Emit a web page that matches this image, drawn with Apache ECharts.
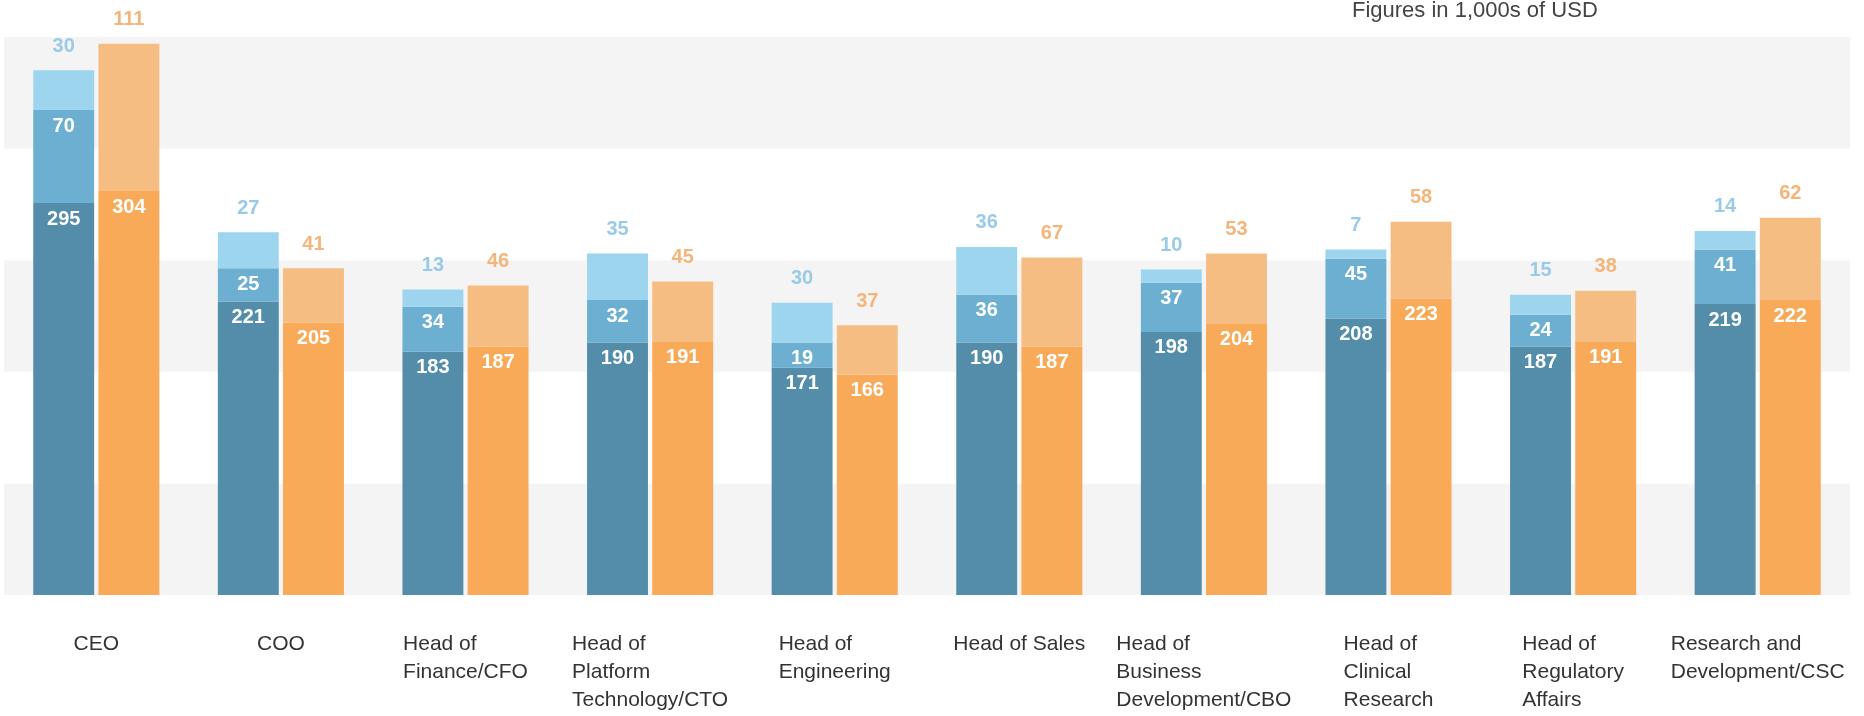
<!DOCTYPE html>
<html>
<head>
<meta charset="utf-8">
<script src="https://cdn.jsdelivr.net/npm/echarts@6/dist/echarts.min.js"></script>
<style>
  html, body { margin: 0; padding: 0; background: #ffffff; }
  #chart { width: 1864px; height: 716px; }
</style>
</head>
<body>
<div id="chart"></div>
<script>
// Roles on the category axis (line breaks as printed under each group)
const categories = [
  'CEO',
  'COO',
  'Head of\nFinance/CFO',
  'Head of\nPlatform\nTechnology/CTO',
  'Head of\nEngineering',
  'Head of Sales',
  'Head of\nBusiness\nDevelopment/CBO',
  'Head of\nClinical\nResearch',
  'Head of\nRegulatory\nAffairs',
  'Research and\nDevelopment/CSC'
];

// Blue stack (three parts), in 1,000s of USD
const blueBase  = [295, 221, 183, 190, 171, 190, 198, 208, 187, 219];
const blueMid   = [70, 25, 34, 32, 19, 36, 37, 45, 24, 41];
const blueTop   = [30, 27, 13, 35, 30, 36, 10, 7, 15, 14];

// Orange stack (two parts), in 1,000s of USD
const orangeBase = [304, 205, 187, 191, 166, 187, 204, 223, 191, 222];
const orangeTop  = [111, 41, 46, 45, 37, 67, 53, 58, 38, 62];

const unitNote = 'Figures in 1,000s of USD';

const FONT = "'Liberation Sans', Arial, sans-serif";

function innerLabel() {
  return {
    show: true,
    position: 'insideTop',
    distance: 6,
    color: '#ffffff',
    fontFamily: FONT,
    fontWeight: 'bold',
    fontSize: 20
  };
}
function outerLabel(color) {
  return {
    show: true,
    position: 'top',
    distance: 14,
    color: color,
    fontFamily: FONT,
    fontWeight: 'bold',
    fontSize: 20
  };
}

const chart = echarts.init(document.getElementById('chart'), null, { renderer: 'canvas' });

chart.setOption({
  animation: false,
  backgroundColor: '#ffffff',
  title: {
    text: unitNote,
    left: 1352,
    top: 0,
    padding: 0,
    textStyle: {
      fontFamily: FONT,
      fontSize: 22,
      fontWeight: 'normal',
      color: '#444444'
    }
  },
  grid: {
    left: 4,
    right: 14,
    top: 37,
    bottom: 121,
    containLabel: false
  },
  xAxis: {
    type: 'category',
    data: categories,
    axisLine: { show: false },
    axisTick: { show: false },
    axisLabel: {
      interval: 0,
      margin: 35,
      verticalAlign: 'top',
      // each line is a rich token aligned left inside a block centred under the group
      formatter: function (v) {
        return v.split('\n').map(function (line) { return '{l|' + line + '}'; }).join('\n');
      },
      rich: {
        l: {
          align: 'left',
          fontFamily: FONT,
          fontSize: 21,
          lineHeight: 28,
          color: '#333333'
        }
      }
    }
  },
  yAxis: {
    type: 'value',
    min: 0,
    max: 420,
    interval: 84,
    axisLine: { show: false },
    axisTick: { show: false },
    axisLabel: { show: false },
    splitLine: { show: false },
    splitArea: {
      show: true,
      areaStyle: { color: ['#F4F4F4', '#FFFFFF'] }
    }
  },
  series: [
    {
      name: 'Blue base', type: 'bar', stack: 'blue', data: blueBase,
      barWidth: '33%', barGap: '7%',
      itemStyle: { color: '#538DAA' },
      label: innerLabel()
    },
    {
      name: 'Blue middle', type: 'bar', stack: 'blue', data: blueMid,
      itemStyle: { color: '#6CAFD0' },
      label: innerLabel()
    },
    {
      name: 'Blue top', type: 'bar', stack: 'blue', data: blueTop,
      itemStyle: { color: '#9DD4EE' },
      label: outerLabel('#9ACBE6')
    },
    {
      name: 'Orange base', type: 'bar', stack: 'orange', data: orangeBase,
      barWidth: '33%',
      itemStyle: { color: '#F9AA58' },
      label: innerLabel()
    },
    {
      name: 'Orange top', type: 'bar', stack: 'orange', data: orangeTop,
      itemStyle: { color: '#F5BD82' },
      label: outerLabel('#F4B57A')
    }
  ]
});
</script>
</body>
</html>
